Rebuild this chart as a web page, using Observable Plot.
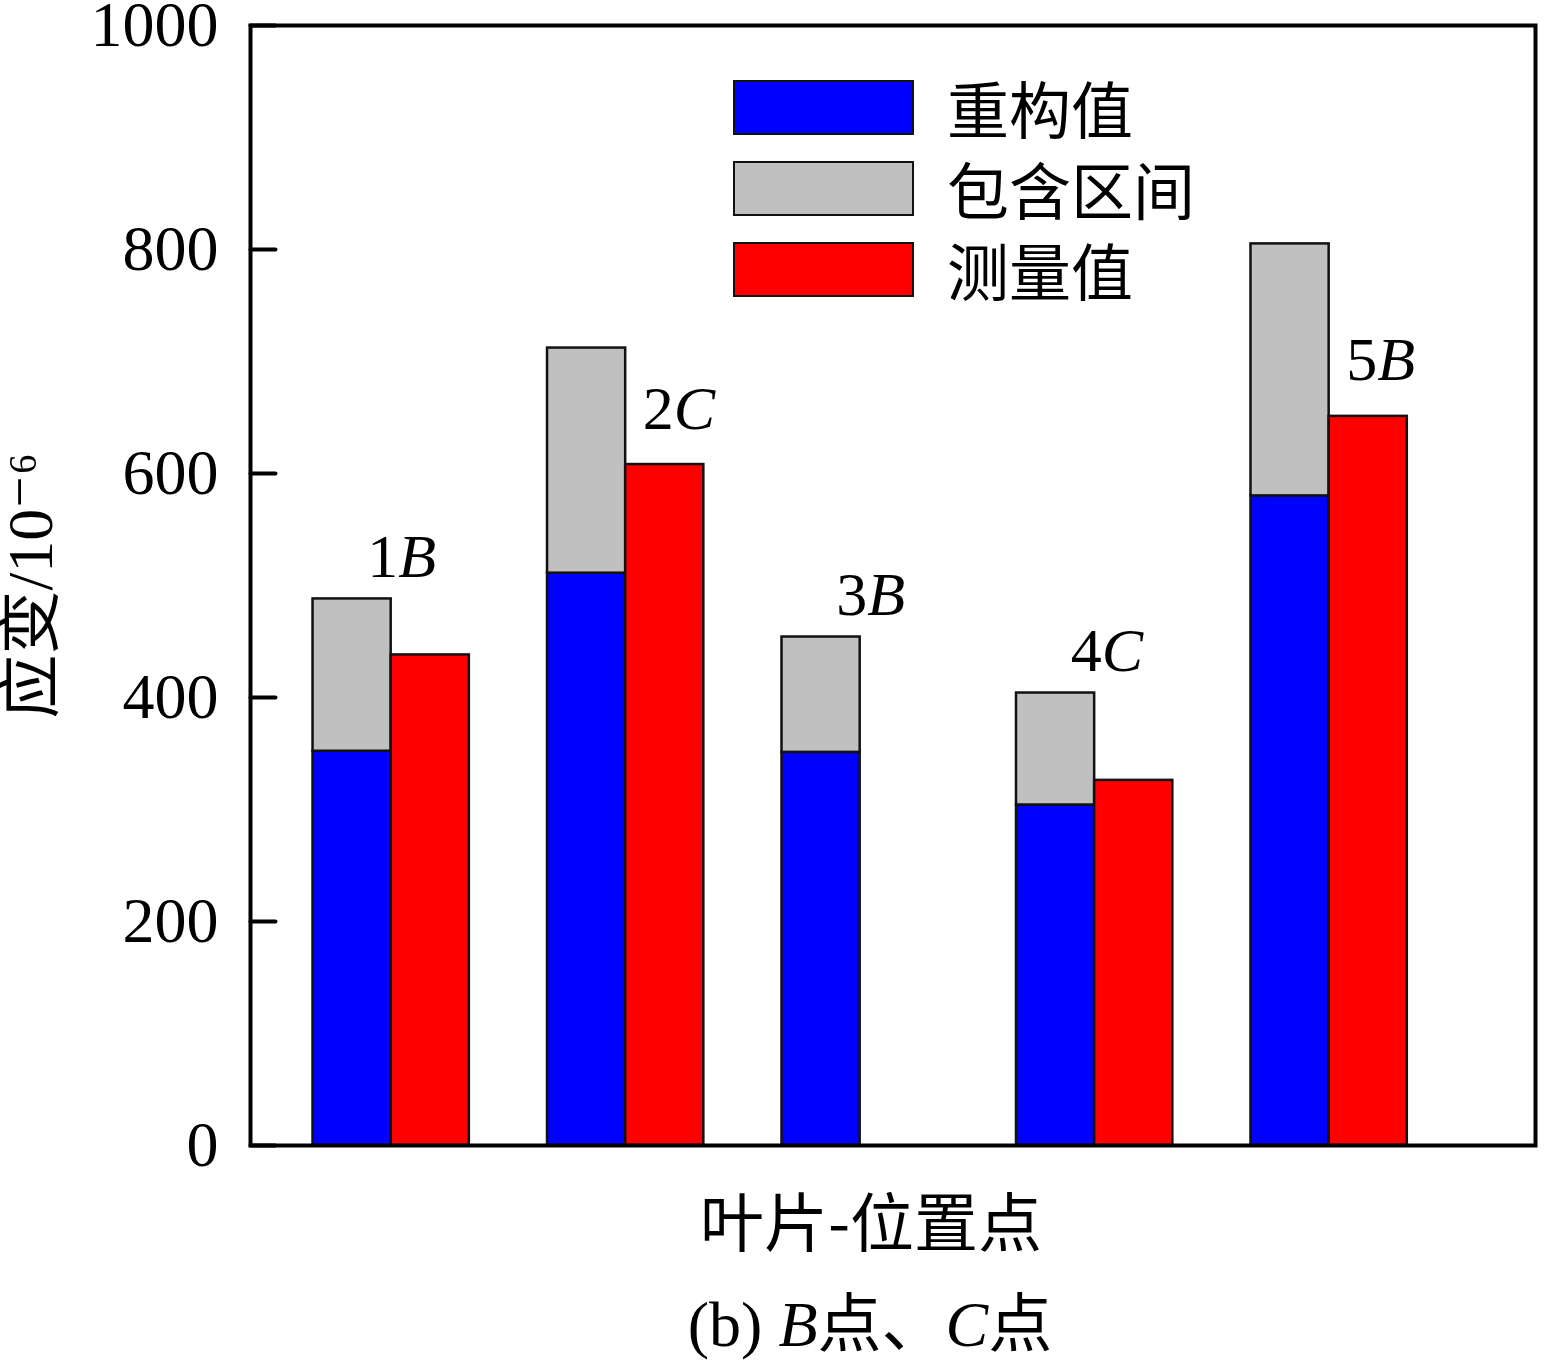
<!DOCTYPE html>
<html>
<head>
<meta charset="utf-8">
<script src="https://cdn.jsdelivr.net/npm/d3@7"></script>
<script src="https://cdn.jsdelivr.net/npm/@observablehq/plot@0.6"></script>
<style>
  html, body { margin: 0; padding: 0; background: white; }
  #wrap { position: relative; width: 1552px; height: 1363px; overflow: hidden; }
  #legend { position: absolute; left: 733px; top: 80px; font-family: "Noto Sans CJK SC", sans-serif; font-size: 62px; color: black; }
  .item { position: relative; height: 81px; }
  .swatch { position: absolute; left: 0; top: 0; width: 181px; height: 55px; box-sizing: border-box; border: 2.5px solid #111; }
  .lab { position: absolute; left: 214px; top: 27px; transform: translateY(-50%); line-height: 1; white-space: nowrap; }
  #caption { position: absolute; left: 370px; width: 1000px; top: 1293px; text-align: center; font-family: "Liberation Serif", "Noto Sans CJK SC", serif; font-size: 64px; line-height: 1; color: black; white-space: nowrap; }
</style>
</head>
<body>
<div id="wrap"></div>
<script>
// ---- data ----
const categories = ["1B", "2C", "3B", "4C", "5B"];
const bladeNo = ["1", "2", "3", "4", "5"];
const pointName = ["B", "C", "B", "C", "B"];
const reconstructed = [352, 511, 351, 304, 580];
const intervalUpper = [488, 712, 454, 404, 805];
const measured = [438, 608, null, 326, 651];
const labelOn = ["interval", "measured", "interval", "interval", "measured"];
const yTicks = [0, 200, 400, 600, 800, 1000];
const legendLabels = ["重构值", "包含区间", "测量值"];
const seriesColors = ["#0000ff", "#c0c0c0", "#ff0000"];
const yTitle = "应变/10⁻⁶";
const xTitle = "叶片-位置点";

const w = 1 / 3; // bar width in category units
const rows = categories.map((c, k) => ({
  pos: k + 1,
  cat: c,
  blade: bladeNo[k],
  point: pointName[k],
  recon: reconstructed[k],
  upper: intervalUpper[k],
  measured: measured[k],
  labelOn: labelOn[k]
}));

function labelMarks(which, dx, dy) {
  const data = rows.filter(r => r.labelOn === which);
  const x = r => which === "interval" ? r.pos : r.pos + w / 2;
  const y = r => which === "interval" ? r.upper : r.measured;
  const common = {x, y, lineAnchor: "bottom", dx, dy, fontSize: 62, fill: "black"};
  return [
    Plot.text(data, {...common, text: "blade", textAnchor: "end"}),
    Plot.text(data, {...common, text: "point", textAnchor: "start", fontStyle: "italic"})
  ];
}

// inward tick: a straight segment drawn by the vector mark
const tickShape = {draw(context, l) { context.moveTo(0, 0); context.lineTo(0, -l); }};

const stroke = {stroke: "#111", strokeWidth: 2.5};

const chart = Plot.plot({
  width: 1552,
  height: 1260,
  marginLeft: 250,
  marginRight: 17,
  marginTop: 25,
  marginBottom: 115,
  style: {
    fontFamily: "'Liberation Serif', 'DejaVu Serif', 'Noto Sans CJK SC', serif",
    fontSize: "64px",
    color: "black",
    background: "white",
    overflow: "visible"
  },
  x: {domain: [0.4, 5.88], axis: null},
  y: {domain: [0, 1000], axis: null},
  marks: [
    Plot.rectY(rows, {x1: r => r.pos - w, x2: "pos", y1: 0, y2: "recon", fill: seriesColors[0], ...stroke}),
    Plot.rectY(rows, {x1: r => r.pos - w, x2: "pos", y1: "recon", y2: "upper", fill: seriesColors[1], ...stroke}),
    Plot.rectY(rows.filter(r => r.measured != null), {x1: "pos", x2: r => r.pos + w, y1: 0, y2: "measured", fill: seriesColors[2], ...stroke}),
    Plot.axisY({ticks: yTicks, tickFormat: d => String(d), tickSize: 0, tickPadding: 32, fontSize: 64, label: null}),
    Plot.vector(yTicks, {y: d => d, frameAnchor: "left", length: 25, rotate: 90, anchor: "start", shape: tickShape, stroke: "black", strokeWidth: 4}),
    Plot.frame({stroke: "black", strokeWidth: 4}),
    ...labelMarks("interval", 7, -22),
    ...labelMarks("measured", 9, -36),
    Plot.text([yTitle], {text: d => d, frameAnchor: "left", textAnchor: "middle", dx: -219, rotate: -90, fontSize: 64, fill: "black"}),
    Plot.text([xTitle], {text: d => d, frameAnchor: "bottom", dy: 100, dx: -22, fontSize: 64, fill: "black",
      fontFamily: "'Noto Sans CJK SC', sans-serif"})
  ]
});

const wrap = document.getElementById("wrap");
wrap.appendChild(chart);

// legend (inside plot area, top)
const legend = document.createElement("div");
legend.id = "legend";
legendLabels.forEach((lab, k) => {
  const item = document.createElement("div");
  item.className = "item";
  const sw = document.createElement("div");
  sw.className = "swatch";
  sw.style.background = seriesColors[k];
  const t = document.createElement("div");
  t.className = "lab";
  t.textContent = lab;
  item.appendChild(sw);
  item.appendChild(t);
  legend.appendChild(item);
});
wrap.appendChild(legend);

// caption below the chart
const cap = document.createElement("div");
cap.id = "caption";
cap.innerHTML = "(b) <i>B</i>点、<i>C</i>点";
wrap.appendChild(cap);
</script>
</body>
</html>
